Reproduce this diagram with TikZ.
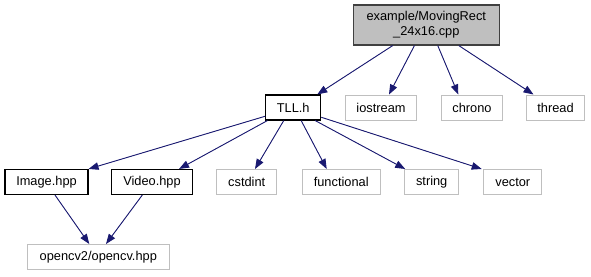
\documentclass[tikz,border=0pt]{standalone}
\usepackage{fontspec}
\setmainfont{Liberation Sans}
\usetikzlibrary{arrows.meta}
\definecolor{edgeblue}{HTML}{191970}
\definecolor{boxgrey}{HTML}{BFBFBF}
\definecolor{boxdark}{HTML}{404040}
\tikzset{
  file/.style={draw=black, line width=1.1pt, fill=white, inner sep=0pt,
    minimum height=25pt, font=\fontsize{12.8}{15}\selectfont},
  extfile/.style={file, draw=boxgrey, line width=1pt},
  mainfile/.style={file, draw=boxdark, fill=boxgrey, align=center,
    minimum height=40pt},
  dep/.style={draw=edgeblue, line width=0.9pt,
    -{Triangle[length=10pt,width=7.5pt]}, fill=edgeblue}
}
\begin{document}
\begin{tikzpicture}[x=1pt,y=-1pt]
\useasboundingbox (0,0) rectangle (591,276);

% source file
\node[mainfile, minimum width=146pt] (src) at (426.3,25)
  {example/MovingRect\\\_24x16.cpp};

% direct includes
\node[file, minimum width=55pt] (tll) at (293.2,107.5) {TLL.h};
\node[extfile, minimum width=71pt] (iostream) at (381,107.5) {iostream};
\node[extfile, minimum width=61pt] (chrono) at (472,107.5) {chrono};
\node[extfile, minimum width=58pt] (thread) at (555.5,107.5) {thread};

% includes of TLL.h
\node[file, minimum width=83pt] (image) at (46.5,182) {Image.hpp};
\node[file, minimum width=81pt] (video) at (152,182) {Video.hpp};
\node[extfile, minimum width=60pt] (cstdint) at (246.7,182) {cstdint};
\node[extfile, minimum width=78pt] (functional) at (341.2,182) {functional};
\node[extfile, minimum width=54pt] (string) at (431.7,182) {string};
\node[extfile, minimum width=58pt] (vector) at (512.8,182) {vector};

% OpenCV
\node[extfile, minimum width=142pt] (opencv) at (98.3,257) {opencv2/opencv.hpp};

% edges from the source file
\draw[dep] ([xshift=40pt]src.south west) -- ([xshift=-4pt]tll.north east);
\draw[dep] ([xshift=61.7pt]src.south west) -- ([xshift=8pt]iostream.north);
\draw[dep] ([xshift=85pt]src.south west) -- ([xshift=-13.7pt]chrono.north);
\draw[dep] ([xshift=106pt]src.south west) -- ([xshift=-22pt]thread.north);

% edges from TLL.h
\draw[dep] ([yshift=4.3pt]tll.south west) -- (image.north east);
\draw[dep] ([xshift=2.3pt]tll.south west) -- ([xshift=-14pt]video.north east);
\draw[dep] ([xshift=18.6pt]tll.south west) -- ([xshift=8.3pt]cstdint.north);
\draw[dep] ([xshift=36pt]tll.south west) -- ([xshift=-14.5pt]functional.north);
\draw[dep] ([xshift=50pt]tll.south west) -- ([xshift=1pt]string.north west);
\draw[dep] ([yshift=3.3pt]tll.south east) -- ([xshift=-1.6pt]vector.north west);

% edges to OpenCV
\draw[dep] ([xshift=8.5pt]image.south) -- ([xshift=-9pt]opencv.north);
\draw[dep] ([xshift=-9.7pt]video.south) -- ([xshift=7.7pt]opencv.north);
\end{tikzpicture}
\end{document}
